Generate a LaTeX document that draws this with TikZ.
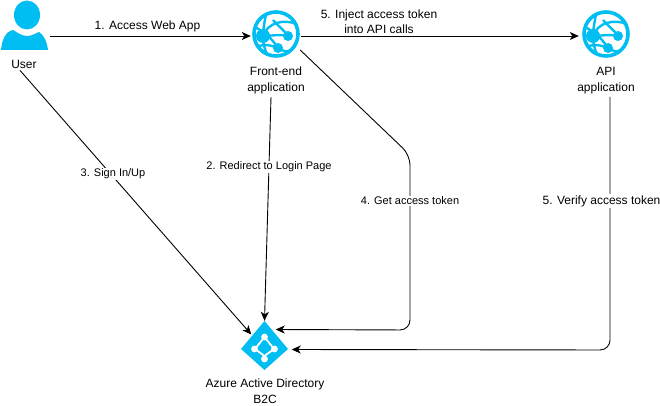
\documentclass[tikz,border=0pt]{standalone}
\usepackage{fontspec}
\setmainfont{Liberation Sans}
\usetikzlibrary{calc,arrows.meta}
\definecolor{azure}{HTML}{00BEF2}
\tikzset{
    box/.style={minimum width=50pt, minimum height=50pt, inner sep=0pt},
    name text/.style={font=\fontsize{12}{15.5}\selectfont, align=center, inner sep=0pt},
    flow text/.style={font=\fontsize{12}{15}\selectfont, align=center, inner sep=1pt, fill=white},
    small flow text/.style={flow text, font=\fontsize{11}{15}\selectfont},
    flow/.style={line width=0.9pt, -{Stealth[length=9pt,width=8pt,inset=2.5pt]}},
    globe/.pic={
        \draw[azure, line width=3.6pt] (0,0) circle (22);
        \fill[azure] (-13,2) circle (7);
        \fill[azure] (12,2) circle (5);
        \fill[azure] (2,14) circle (5);
        \draw[azure, line width=2.4pt] (-10,-20) .. controls (-12,-8) and (-16,6) .. (-9,20);
        \draw[azure, line width=2.4pt] (-21,-7) .. controls (-12,-2) and (-6,2) .. (2,14) .. controls (8,18) and (12,18) .. (15,16);
        \draw[azure, line width=2.4pt] (-13,2) .. controls (-8,-12) and (8,-15) .. (21,-10);
        \draw[azure, line width=2.4pt] (-13,2) .. controls (-6,2) and (4,0) .. (12,2);
        \draw[azure, line width=2.4pt] (-18,12) .. controls (-8,10) and (-3,12) .. (2,14);
        \draw[azure, line width=2.4pt] (-3,-14) .. controls (2,-8) and (8,-4) .. (12,2);
    }
}
\begin{document}
\begin{tikzpicture}[x=1pt, y=-1pt]
    \useasboundingbox (0,0) rectangle (660,406);
    % icons
    \node[box] (user) at (25,36) {};
    \node[box] (front) at (276,36) {};
    \node[box] (api) at (604,36) {};
    \node[box, minimum size=48pt, minimum height=49pt] (aad) at (264.5,345.5) {};
    \node[name text] (userlabel) at (24,64) {User};
    \node[name text] (frontlabel) at (276,80.5) {Front-end\\application};
    \node[name text] (apilabel) at (606,80.5) {API\\application};
    \node[name text] (aadlabel) at (265,391) {Azure Active Directory\\B2C};

    % user
    \fill[azure] (27,15) ellipse (13 and 14.5);
    \fill[azure] (1,50) .. controls (2,40) and (5,32) .. (13,30) .. controls (18,33) and (22,36) .. (27,36)
        .. controls (32,36) and (36,33) .. (39,32) .. controls (44,35) and (47,42) .. (48,50) -- cycle;
    \pic at (276,34) {globe};
    \pic at (606,34) {globe};
    % directory
    \fill[azure] (264.5,321) -- (288,349) -- (264.5,370) -- (241,349) -- cycle;
    \draw[white, line width=1.8pt] (264.5,337) -- (274,349) -- (264.5,356) -- (255,349) -- cycle;
    \foreach \dx/\dy in {0/-12, 10/0, 0/10, -10/0}{
        \fill[white] (264.5+\dx,349+\dy) circle (3.4);
    }

    % connectors
    \draw[flow] (user.east) -- (front.west);
    \draw[flow] (front.east) -- (api.west);
    \draw[flow] ($(userlabel.south)+(-4,2)$) -- ($(aad.west)+(11,-11)$);
    \draw[flow] ($(frontlabel.south)+(-5,3)$) -- (aad.north);
    \draw[flow, rounded corners=10pt] ($(front.east)+(-1,14)$) -- (410,155) -- (410,330) -- ($(aad.east)+(-13,-16)$);
    \draw[flow, rounded corners=10pt] ($(apilabel.south)+(4,3)$) -- (610,350) -- ($(aad.east)+(3,4)$);

    % labels
    \node[flow text, fill=none] (accesstext) at (147.5,26) {1. Access Web App};
    \node[flow text, fill=none] (injecttext) at (379,21.5) {5. Inject access token\\into API calls};
    \node[small flow text] (signtext) at (113,174) {3. Sign In/Up};
    \node[small flow text] (redirecttext) at (269,167) {2. Redirect to Login Page};
    \node[small flow text] (gettext) at (410,201) {4. Get access token};
    \node[flow text] (verifytext) at (601.5,201) {5. Verify access token};
\end{tikzpicture}
\end{document}
